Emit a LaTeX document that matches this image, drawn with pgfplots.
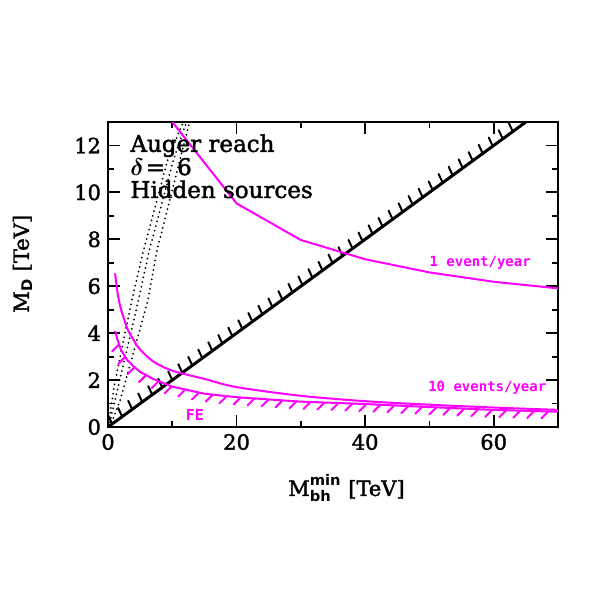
\documentclass[border=0pt]{standalone}
\usepackage{amsmath}
\usepackage{fontspec}
\setmainfont{DejaVu Serif}[FakeBold=1.8]
\setsansfont{DejaVu Sans}
\setmonofont{DejaVu Sans Mono}
\usepackage{pgfplots}
\pgfplotsset{compat=1.18}
\usetikzlibrary{decorations.markings}
\definecolor{mag}{RGB}{255,0,255}

% hatch marks with a fixed (absolute) direction along a plotted curve
\tikzset{
  hatch/.style n args={4}{postaction={decorate, decoration={markings,
    mark=between positions #1 and 1 step #2 with {\pgftransformresetnontranslations
      \draw[#4, line width=1pt, line cap=round] (0pt,0pt) -- #3;}}}},
}

\begin{document}
\begin{tikzpicture}
\begin{axis}[
  scale only axis,
  width=225pt, height=152.5pt,
  xmin=0, xmax=70, ymin=0, ymax=13,
  xtick={0,20,40,60}, minor xtick={10,30,50},
  ytick={0,2,4,6,8,10,12}, minor ytick={1,3,5,7,9,11},
  tick align=inside,
  xtick pos=both, ytick pos=both,
  major tick length=6pt, minor tick length=3pt,
  axis line style={line width=1pt},
  every tick/.style={black, line width=0.9pt},
  tick label style={font=\fontsize{10.5}{12}\selectfont},
  /pgf/number format/assume math mode=true,
  xlabel={$\text{M}^{\text{\sffamily\bfseries min}}_{\text{\sffamily\bfseries bh}}$\ [TeV]},
  ylabel={M\textsubscript{\sffamily\bfseries D} [TeV]},
  label style={font=\fontsize{10.5}{12}\selectfont},
  xlabel style={at={(axis description cs:0.53,-0.2)}, anchor=center},
  ylabel style={at={(axis description cs:-0.19,0.535)}, anchor=center},
]
% dotted band
\addplot[black, line width=1pt, dash pattern=on 0pt off 2.4pt, line cap=round] coordinates {
  (0,0) (1,1.8) (3.7,5.4) (5.5,7.5) (9.3,11.4) (11.7,13)
};
\addplot[black, line width=1pt, dash pattern=on 0pt off 2.4pt, line cap=round] coordinates {
  (0.1,0) (1.4,1.5) (4.4,5.0) (6.4,7.5) (10.2,11.4) (12.2,13)
};
\addplot[black, line width=1pt, dash pattern=on 0pt off 2.4pt, line cap=round] coordinates {
  (0.3,0) (1.9,1.15) (4.4,3.6) (6.2,5.4) (7.6,7.5) (11.2,11.4) (12.7,13)
};
% kinematic limit line with hatching
\addplot[black, line width=1.5pt, hatch={0.01}{6.2pt}{(-2pt,4.3pt)}{black}]
  coordinates {(0,0) (65,13)};
% 1 event/year
\addplot[mag, line width=1pt] coordinates {
  (10,13) (20,9.53) (30,7.97) (40,7.15) (50,6.59) (60,6.19) (70,5.91)
};
% 10 events/year
\addplot[mag, line width=1pt, smooth] coordinates {
  (1.1,6.55) (1.5,5.7) (2,5.05) (3,4.2) (4,3.7) (5,3.3) (7,2.8) (10,2.4)
  (15,2.05) (20,1.7) (30,1.33) (40,1.1) (50,0.95) (60,0.83) (70,0.73)
};
% FE bound with hatching
\addplot[mag, line width=1pt, hatch={0.03}{7pt}{(-3.5pt,-3.5pt)}{mag}]
  coordinates {
  (1.1,4.1) (1.5,3.7) (2,3.3) (3,2.85) (4,2.58) (5,2.35) (7,2.05) (10,1.72)
  (15,1.42) (20,1.27) (30,1.08) (40,0.98) (50,0.85) (60,0.73) (70,0.65)
};
\node[anchor=base west, font=\fontsize{11.5}{12}\selectfont, inner sep=0pt] at (rel axis cs:0.049,0.902) {Auger reach};
\node[anchor=base west, font=\fontsize{11.5}{12}\selectfont, inner sep=0pt] at (rel axis cs:0.049,0.826) {$\boldsymbol{\delta}$\hspace{1pt}=\hspace{6pt}6};
\node[anchor=base west, font=\fontsize{11.5}{12}\selectfont, inner sep=0pt] at (rel axis cs:0.049,0.751) {Hidden sources};
\node[mag, anchor=base, font=\ttfamily\bfseries\fontsize{7}{8}\selectfont, inner sep=0pt] at (axis cs:57.9,6.83) {1 event/year};
\node[mag, anchor=base, font=\ttfamily\bfseries\fontsize{7}{8}\selectfont, inner sep=0pt] at (axis cs:59.0,1.5) {10 events/year};
\node[mag, anchor=base, font=\ttfamily\bfseries\fontsize{7.5}{8}\selectfont, inner sep=0pt] at (axis cs:13.5,0.26) {FE};
\end{axis}
\pgfresetboundingbox
\path[use as bounding box] (-54pt,-81pt) rectangle (240.5pt,213.5pt);
\end{tikzpicture}
\end{document}
